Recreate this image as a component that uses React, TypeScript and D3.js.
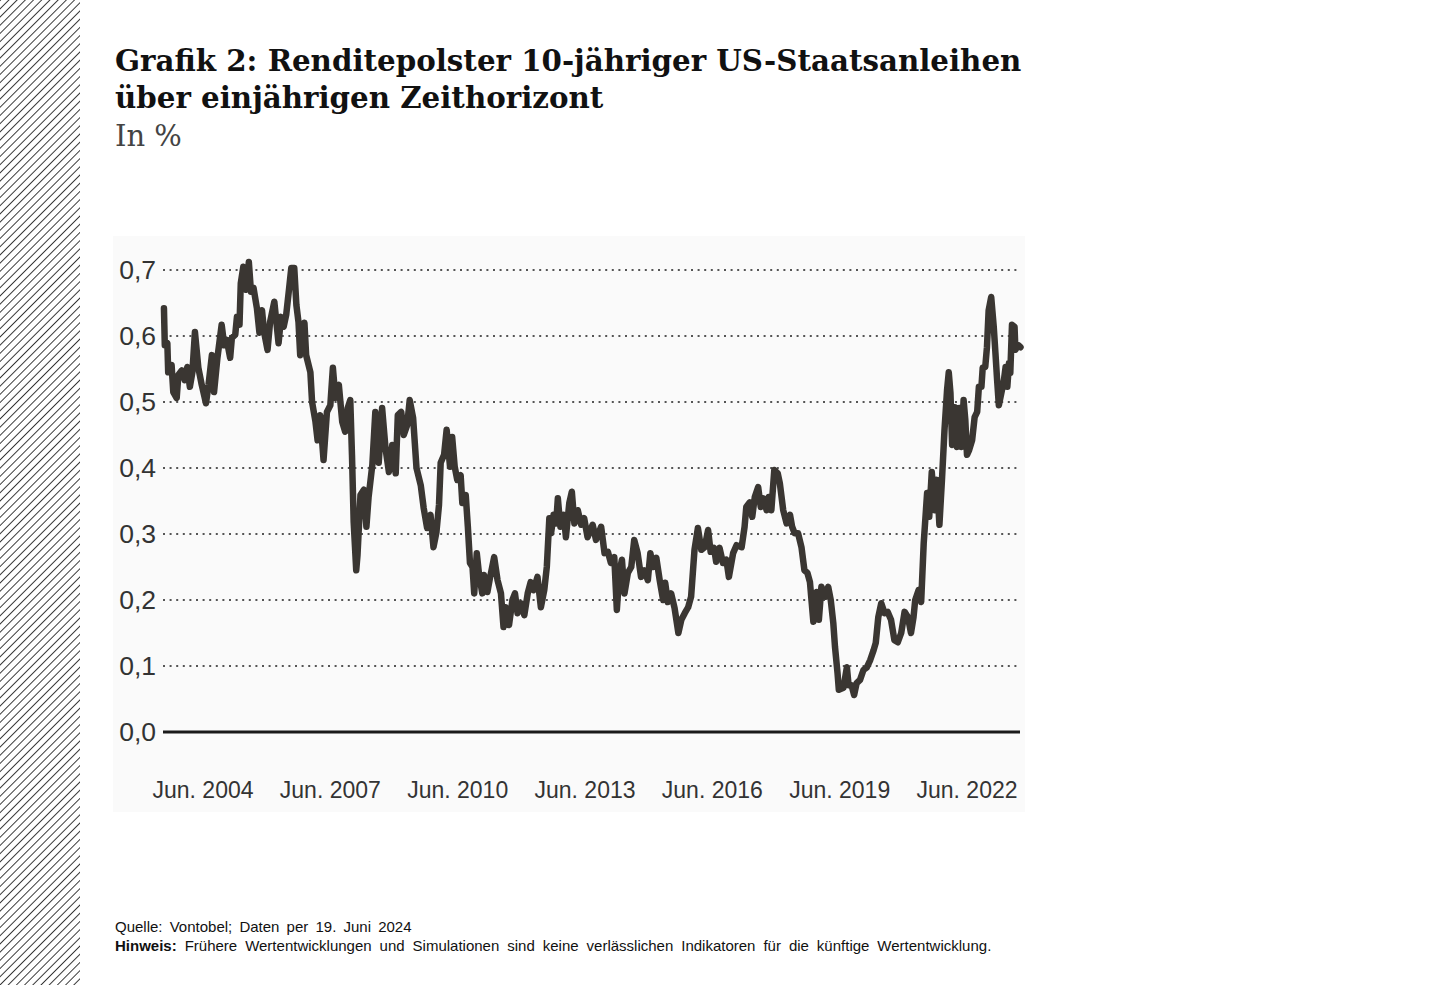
import React from 'react';
import * as d3 from 'd3';

const years = [
  2003.58, 2003.60, 2003.66, 2003.68, 2003.76, 2003.80, 2003.88, 2003.92, 2004.00, 2004.07,
  2004.13, 2004.19, 2004.25, 2004.31, 2004.39, 2004.47, 2004.57, 2004.63, 2004.71, 2004.76,
  2004.84, 2004.94, 2005.00, 2005.06, 2005.14, 2005.18, 2005.26, 2005.30, 2005.36, 2005.39,
  2005.45, 2005.52, 2005.58, 2005.63, 2005.69, 2005.77, 2005.83, 2005.89, 2005.94, 2006.02,
  2006.08, 2006.18, 2006.28, 2006.34, 2006.40, 2006.46, 2006.52, 2006.58, 2006.65, 2006.70,
  2006.75, 2006.79, 2006.89, 2006.93, 2007.03, 2007.07, 2007.15, 2007.20, 2007.26, 2007.34,
  2007.42, 2007.50, 2007.56, 2007.62, 2007.70, 2007.78, 2007.85, 2007.91, 2007.97, 2008.01,
  2008.05, 2008.11, 2008.14, 2008.21, 2008.29, 2008.35, 2008.40, 2008.49, 2008.56, 2008.64,
  2008.72, 2008.80, 2008.88, 2008.96, 2009.04, 2009.09, 2009.17, 2009.23, 2009.31, 2009.37,
  2009.45, 2009.53, 2009.63, 2009.70, 2009.78, 2009.86, 2009.93, 2010.00, 2010.06, 2010.10,
  2010.18, 2010.24, 2010.32, 2010.37, 2010.43, 2010.49, 2010.57, 2010.61, 2010.69, 2010.74,
  2010.79, 2010.85, 2010.89, 2010.95, 2011.00, 2011.08, 2011.12, 2011.20, 2011.26, 2011.36,
  2011.44, 2011.52, 2011.58, 2011.63, 2011.71, 2011.79, 2011.85, 2011.91, 2011.99, 2012.07,
  2012.15, 2012.22, 2012.29, 2012.38, 2012.46, 2012.54, 2012.60, 2012.66, 2012.70, 2012.76,
  2012.82, 2012.86, 2012.92, 2013.00, 2013.05, 2013.13, 2013.19, 2013.25, 2013.33, 2013.41,
  2013.48, 2013.56, 2013.68, 2013.76, 2013.88, 2013.96, 2014.04, 2014.11, 2014.19, 2014.25,
  2014.31, 2014.37, 2014.43, 2014.51, 2014.59, 2014.66, 2014.74, 2014.82, 2014.90, 2014.98,
  2015.04, 2015.10, 2015.18, 2015.26, 2015.34, 2015.39, 2015.45, 2015.53, 2015.61, 2015.70,
  2015.77, 2015.85, 2015.93, 2016.00, 2016.08, 2016.16, 2016.24, 2016.32, 2016.40, 2016.46,
  2016.54, 2016.59, 2016.67, 2016.75, 2016.83, 2016.89, 2016.99, 2017.07, 2017.19, 2017.26,
  2017.30, 2017.38, 2017.44, 2017.50, 2017.58, 2017.64, 2017.70, 2017.78, 2017.83, 2017.89,
  2017.96, 2018.04, 2018.09, 2018.17, 2018.25, 2018.33, 2018.38, 2018.44, 2018.52, 2018.60,
  2018.67, 2018.74, 2018.80, 2018.88, 2018.96, 2019.01, 2019.07, 2019.17, 2019.23, 2019.29,
  2019.35, 2019.39, 2019.45, 2019.48, 2019.59, 2019.67, 2019.71, 2019.78, 2019.84, 2019.90,
  2019.98, 2020.06, 2020.14, 2020.22, 2020.30, 2020.35, 2020.41, 2020.48, 2020.56, 2020.63,
  2020.71, 2020.79, 2020.87, 2020.95, 2021.03, 2021.11, 2021.18, 2021.24, 2021.28, 2021.36,
  2021.42, 2021.48, 2021.56, 2021.61, 2021.67, 2021.74, 2021.79, 2021.85, 2021.91, 2021.97,
  2022.03, 2022.07, 2022.11, 2022.15, 2022.21, 2022.26, 2022.32, 2022.37, 2022.42, 2022.46,
  2022.50, 2022.55, 2022.62, 2022.68, 2022.74, 2022.78, 2022.84, 2022.87, 2022.93, 2022.97,
  2023.01, 2023.07, 2023.13, 2023.17, 2023.21, 2023.25, 2023.31, 2023.37, 2023.41, 2023.45,
  2023.49, 2023.52, 2023.56, 2023.62, 2023.64, 2023.71, 2023.76,
];

const values = [
  0.642, 0.586, 0.589, 0.545, 0.556, 0.515, 0.506, 0.541, 0.548, 0.533,
  0.553, 0.523, 0.545, 0.606, 0.552, 0.526, 0.498, 0.526, 0.571, 0.515,
  0.567, 0.617, 0.586, 0.594, 0.567, 0.597, 0.602, 0.629, 0.617, 0.680,
  0.705, 0.670, 0.712, 0.667, 0.673, 0.642, 0.605, 0.639, 0.606, 0.579,
  0.621, 0.652, 0.589, 0.629, 0.614, 0.632, 0.667, 0.703, 0.703, 0.647,
  0.621, 0.571, 0.620, 0.571, 0.545, 0.500, 0.470, 0.442, 0.480, 0.412,
  0.485, 0.495, 0.552, 0.506, 0.526, 0.470, 0.455, 0.491, 0.503, 0.420,
  0.318, 0.245, 0.268, 0.359, 0.367, 0.311, 0.355, 0.405, 0.485, 0.408,
  0.491, 0.430, 0.394, 0.435, 0.392, 0.480, 0.485, 0.450, 0.465, 0.503,
  0.476, 0.400, 0.374, 0.339, 0.309, 0.329, 0.280, 0.303, 0.344, 0.408,
  0.420, 0.458, 0.402, 0.447, 0.402, 0.382, 0.389, 0.347, 0.359, 0.311,
  0.256, 0.250, 0.210, 0.271, 0.241, 0.210, 0.238, 0.212, 0.233, 0.265,
  0.230, 0.210, 0.159, 0.189, 0.162, 0.200, 0.210, 0.180, 0.195, 0.177,
  0.210, 0.227, 0.215, 0.235, 0.189, 0.215, 0.250, 0.324, 0.301, 0.329,
  0.316, 0.354, 0.311, 0.329, 0.295, 0.347, 0.364, 0.316, 0.336, 0.314,
  0.324, 0.295, 0.314, 0.291, 0.311, 0.271, 0.273, 0.256, 0.265, 0.185,
  0.241, 0.261, 0.210, 0.241, 0.250, 0.291, 0.271, 0.235, 0.245, 0.230,
  0.271, 0.250, 0.264, 0.230, 0.200, 0.226, 0.197, 0.210, 0.188, 0.150,
  0.170, 0.180, 0.189, 0.205, 0.276, 0.309, 0.276, 0.280, 0.306, 0.273,
  0.279, 0.258, 0.279, 0.256, 0.261, 0.235, 0.271, 0.283, 0.280, 0.311,
  0.341, 0.348, 0.326, 0.356, 0.371, 0.341, 0.354, 0.336, 0.356, 0.336,
  0.397, 0.392, 0.377, 0.336, 0.316, 0.329, 0.311, 0.301, 0.301, 0.280,
  0.245, 0.241, 0.227, 0.167, 0.212, 0.170, 0.220, 0.205, 0.220, 0.200,
  0.165, 0.129, 0.089, 0.064, 0.067, 0.098, 0.071, 0.071, 0.056, 0.074,
  0.079, 0.094, 0.098, 0.109, 0.124, 0.135, 0.174, 0.195, 0.180, 0.182,
  0.170, 0.139, 0.136, 0.150, 0.182, 0.174, 0.150, 0.174, 0.200, 0.215,
  0.197, 0.286, 0.362, 0.326, 0.394, 0.336, 0.382, 0.314, 0.382, 0.458,
  0.518, 0.545, 0.514, 0.435, 0.492, 0.432, 0.491, 0.432, 0.503, 0.473,
  0.420, 0.427, 0.442, 0.477, 0.485, 0.523, 0.523, 0.552, 0.553, 0.583,
  0.639, 0.659, 0.614, 0.574, 0.533, 0.495, 0.514, 0.533, 0.553, 0.523,
  0.559, 0.544, 0.617, 0.614, 0.579, 0.586, 0.583,
];

const yTicks = [0, 0.1, 0.2, 0.3, 0.4, 0.5, 0.6, 0.7];
const yTickLabels = ['0,0', '0,1', '0,2', '0,3', '0,4', '0,5', '0,6', '0,7'];
const xTickYears = [2004.5, 2007.5, 2010.5, 2013.5, 2016.5, 2019.5, 2022.5];
const xTickLabels = ['Jun. 2004', 'Jun. 2007', 'Jun. 2010', 'Jun. 2013', 'Jun. 2016', 'Jun. 2019', 'Jun. 2022'];

const titleLines = [
  'Grafik 2: Renditepolster 10-jähriger US-Staatsanleihen',
  'über einjährigen Zeithorizont',
];
const subtitle = 'In %';
const sourceText = 'Quelle: Vontobel; Daten per 19. Juni 2024';
const noteLabel = 'Hinweis:';
const noteText = ' Frühere Wertentwicklungen und Simulationen sind keine verlässlichen Indikatoren für die künftige Wertentwicklung.';

export default function App() {
  const x = d3.scaleLinear().domain([2004.5, 2022.5]).range([203, 967]);
  const y = d3.scaleLinear().domain([0, 0.7]).range([732, 270]);
  const data: [number, number][] = years.map((yr, i) => [yr, values[i]]);
  const line = d3.line<[number, number]>().x(d => x(d[0])).y(d => y(d[1]));
  const sans = '"Liberation Sans", Arial, sans-serif';
  const serif = '"DejaVu Serif", "Liberation Serif", serif';

  return (
    <svg width={1440} height={985} style={{ position: 'absolute', left: 0, top: 0, display: 'block', background: '#fff' }}>
      <defs>
        <pattern id="hatch" width={5.8} height={5.8} patternUnits="userSpaceOnUse" patternTransform="rotate(45)">
          <line x1={0} y1={0} x2={0} y2={5.8} stroke="#1a1a1a" strokeWidth={1.7} />
        </pattern>
      </defs>
      <rect x={0} y={0} width={80} height={985} fill="url(#hatch)" />

      {titleLines.map((t, i) => (
        <text key={i} x={115} y={71 + i * 37} fontFamily={serif} fontWeight="bold" fontSize={29.3} fill="#111">{t}</text>
      ))}
      <text x={115} y={146} fontFamily={serif} fontSize={29} fill="#444">{subtitle}</text>

      <rect x={113} y={236} width={912} height={576} fill="#fafafa" />

      {yTicks.filter(v => v > 0).map(v => (
        <line key={v} x1={163} x2={1018} y1={y(v)} y2={y(v)} stroke="#555" strokeWidth={2} strokeDasharray="2 4.6" />
      ))}
      <line x1={163} x2={1020} y1={y(0)} y2={y(0)} stroke="#1a1a1a" strokeWidth={3} />

      {yTicks.map((v, i) => (
        <text key={v} x={156} y={y(v) + 9} textAnchor="end" fontFamily={sans} fontSize={26.5} fill="#333">{yTickLabels[i]}</text>
      ))}
      {xTickYears.map((yr, i) => (
        <text key={yr} x={x(yr)} y={798} textAnchor="middle" fontFamily={sans} fontSize={23} fill="#333">{xTickLabels[i]}</text>
      ))}

      <path d={line(data) || ''} fill="none" stroke="#3a3632" strokeWidth={6.5} strokeLinejoin="round" strokeLinecap="round" />

      <text x={115} y={932} fontFamily={sans} fontSize={15} fill="#111" wordSpacing={3}>{sourceText}</text>
      <text x={115} y={951} fontFamily={sans} fontSize={15} fill="#111" wordSpacing={3.8} style={{ whiteSpace: 'pre' }}>
        <tspan fontWeight="bold">{noteLabel}</tspan>{noteText}
      </text>
    </svg>
  );
}
